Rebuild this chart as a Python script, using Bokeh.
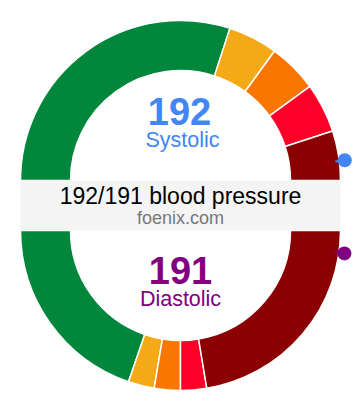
import numpy as np
from bokeh.plotting import figure
from bokeh.models import Range1d, ColumnDataSource
from bokeh.core.properties import value
from bokeh.embed import file_html
from bokeh.resources import INLINE

# ---- data ----
categories = ["Normal", "Elevated", "Stage 1", "Stage 2", "Crisis"]
colors = ["#00873b", "#f4aa17", "#fa7602", "#fe0027", "#8b0000"]
sys_weights = [6, 1, 1, 1, 1]          # arc share of each systolic zone
dia_weights = [7.5, 1, 1, 1, 8.5]      # arc share of each diastolic zone
systolic = 192
diastolic = 191
sys_marker = 9.61    # position of systolic reading on the weight scale
dia_marker = 18.16   # position of diastolic reading on the weight scale
title = "192/191 blood pressure"
subtitle = "foenix.com"

FONT = "Liberation Sans"
BLUE = "#4285f4"
PURPLE = "#800080"

p = figure(width=352, height=402, output_backend="svg", toolbar_location=None,
           x_range=Range1d(0, 352), y_range=Range1d(8, 410), min_border=0)
p.axis.visible = False
p.grid.visible = False
p.outline_line_color = None
p.background_fill_color = "white"

cx = 180
top_cy = 230
bot_cy = 180
r_in, r_out = 110, 160

# top (systolic) half: from left, clockwise over the top
sw = np.array(sys_weights, dtype=float)
scum = np.concatenate([[0], np.cumsum(sw)]) / sw.sum()
top_src = ColumnDataSource(dict(
    start=np.pi - scum[1:] * np.pi,
    end=np.pi - scum[:-1] * np.pi,
    color=colors, cat=categories))
p.annular_wedge(x=cx, y=top_cy, inner_radius=r_in, outer_radius=r_out,
                start_angle="start", end_angle="end", fill_color="color",
                line_color="white", line_width=1.5, source=top_src)

# bottom (diastolic) half: from left, anticlockwise under the bottom
dw = np.array(dia_weights, dtype=float)
dcum = np.concatenate([[0], np.cumsum(dw)]) / dw.sum()
bot_src = ColumnDataSource(dict(
    start=np.pi + dcum[:-1] * np.pi,
    end=np.pi + dcum[1:] * np.pi,
    color=colors, cat=categories))
p.annular_wedge(x=cx, y=bot_cy, inner_radius=r_in, outer_radius=r_out,
                start_angle="start", end_angle="end", fill_color="color",
                line_color="white", line_width=1.5, source=bot_src)

# centre band
p.quad(left=20, right=340, bottom=bot_cy, top=top_cy, fill_color="#f4f4f4", line_color=None)

# markers
r_dot = 165.5
a_s = np.pi - sys_marker / sw.sum() * np.pi
a_d = np.pi + dia_marker / dw.sum() * np.pi
for a, cy, col in [(a_s, top_cy, BLUE), (a_d, bot_cy, PURPLE)]:
    x0, y0 = cx + (r_out - 4) * np.cos(a), cy + (r_out - 4) * np.sin(a)
    x1, y1 = cx + r_dot * np.cos(a), cy + r_dot * np.sin(a)
    p.segment(x0=[x0], y0=[y0], x1=[x1], y1=[y1], line_color=col, line_width=2)
    p.scatter(x=[x1], y=[y1], size=14, marker="circle", fill_color=col, line_color=None)

# texts (baseline y given in data units; small lift compensates renderer baseline)
def txt(x, y, s, size, color, style="normal"):
    p.text(x=[x], y=[y + 0.33 * size], text=[s], text_font=value(FONT),
           text_font_size=f"{size}px", text_color=color, text_align="center",
           text_baseline="alphabetic", text_font_style=style)

txt(179, 286.5, str(systolic), 38, BLUE, "bold")
txt(182, 263.3, "Systolic", 21.5, BLUE)
txt(180, 207.3, title, 23, "#000000")
txt(180, 186.7, subtitle, 18, "#777777")
txt(180, 127.7, str(diastolic), 38, PURPLE, "bold")
txt(180, 104, "Diastolic", 21.5, PURPLE)

open("out.html", "w").write(file_html(p, INLINE))
